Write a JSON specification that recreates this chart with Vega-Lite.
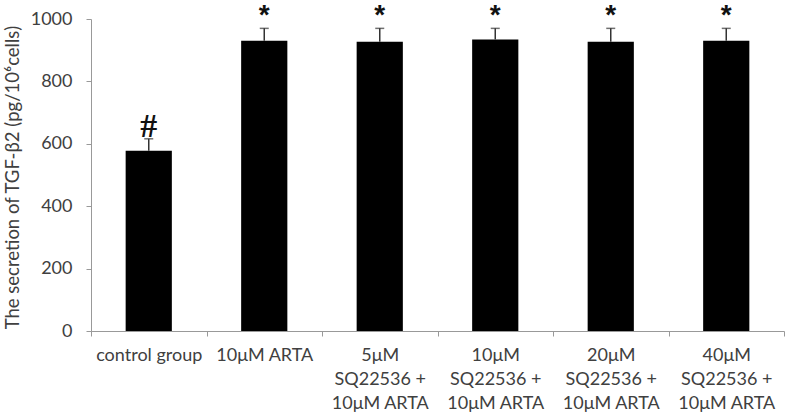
{
  "$schema": "https://vega.github.io/schema/vega-lite/v6.json",
  "width": 693,
  "height": 312,
  "autosize": {"type": "none"},
  "padding": {"left": 91, "top": 19, "right": 3, "bottom": 87},
  "background": "white",
  "config": {"view": {"stroke": null}, "font": "Lato"},
  "data": {
    "values": [
      {"group": "control group", "value": 578, "upper": 616, "sym": "#"},
      {"group": "10μM ARTA", "value": 930, "upper": 970, "sym": "*"},
      {"group": "5μM\nSQ22536 +\n10μM ARTA", "value": 927, "upper": 970, "sym": "*"},
      {"group": "10μM\nSQ22536 +\n10μM ARTA", "value": 934, "upper": 970, "sym": "*"},
      {"group": "20μM\nSQ22536 +\n10μM ARTA", "value": 927, "upper": 970, "sym": "*"},
      {"group": "40μM\nSQ22536 +\n10μM ARTA", "value": 930, "upper": 970, "sym": "*"}
    ]
  },
  "encoding": {
    "x": {
      "field": "group",
      "type": "nominal",
      "sort": null,
      "scale": {"paddingInner": 0, "paddingOuter": 0},
      "axis": {
        "title": null,
        "labelAngle": 0,
        "labelExpr": "split(datum.label, '\\n')",
        "labelFontSize": 18,
        "labelColor": "#404040",
        "labelLineHeight": 24,
        "labelPadding": 10,
        "labelBaseline": "top",
        "tickBand": "extent",
        "tickSize": 5,
        "tickColor": "#999999",
        "domainColor": "#999999",
        "labelLimit": 200
      }
    }
  },
  "layer": [
    {
      "mark": {"type": "bar", "color": "black", "width": {"band": 0.4}},
      "encoding": {
        "y": {
          "field": "value",
          "type": "quantitative",
          "scale": {"domain": [0, 1000], "nice": false},
          "axis": {
            "title": "The secretion of  TGF-β2 (pg/10⁶cells)",
            "titleFontSize": 18.5,
            "titleFontWeight": "normal",
            "titleColor": "#404040",
            "titlePadding": 8,
            "titleY": 158,
            "values": [0, 200, 400, 600, 800, 1000],
            "format": "d",
            "labelFontSize": 18,
            "labelColor": "#404040",
            "labelPadding": 14,
            "tickSize": 5,
            "tickColor": "#999999",
            "domainColor": "#999999",
            "grid": false
          }
        }
      }
    },
    {
      "mark": {"type": "rule", "color": "#333333", "strokeWidth": 1.5},
      "encoding": {
        "y": {"field": "value", "type": "quantitative"},
        "y2": {"field": "upper"}
      }
    },
    {
      "mark": {"type": "tick", "color": "#333333", "size": 9, "thickness": 1.5},
      "encoding": {
        "y": {"field": "upper", "type": "quantitative"}
      }
    },
    {
      "transform": [{"filter": "datum.sym == '*'"}],
      "mark": {"type": "text", "font": "Liberation Sans", "fontSize": 28, "fontWeight": "bold", "color": "#111111", "baseline": "alphabetic", "dy": -4},
      "encoding": {
        "y": {"field": "upper", "type": "quantitative"},
        "text": {"field": "sym"}
      }
    },
    {
      "transform": [{"filter": "datum.sym == '#'"}],
      "mark": {"type": "text", "font": "Liberation Serif", "fontSize": 34, "fontWeight": "bold", "color": "#111111", "baseline": "alphabetic", "dy": -2},
      "encoding": {
        "y": {"field": "upper", "type": "quantitative"},
        "text": {"field": "sym"}
      }
    }
  ]
}
